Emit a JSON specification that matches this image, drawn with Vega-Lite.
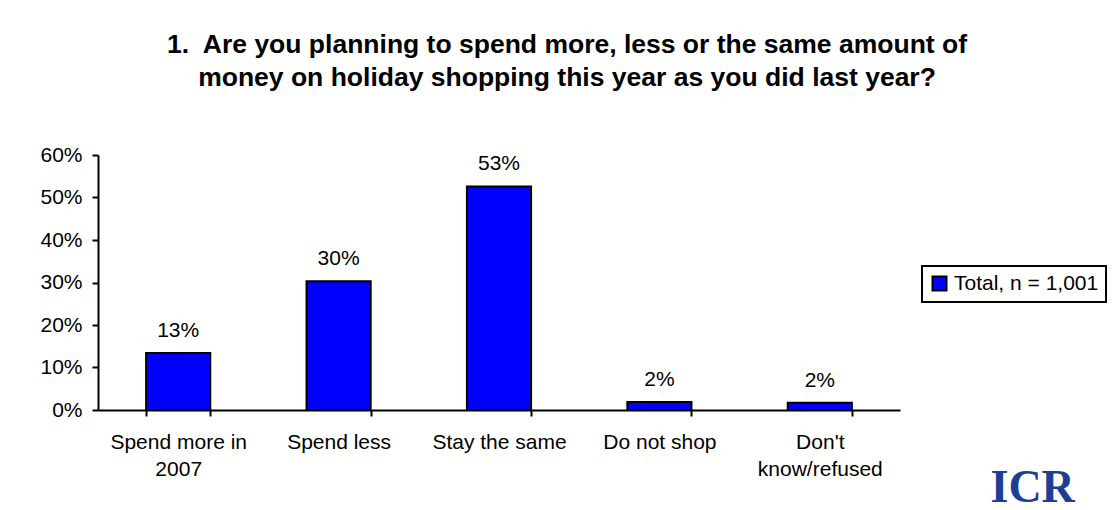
{
  "$schema": "https://vega.github.io/schema/vega-lite/v6.json",
  "autosize": {"type": "none"},
  "padding": {"left": 98, "top": 155, "right": 214, "bottom": 100},
  "width": 802,
  "height": 255,
  "background": "white",
  "title": {
    "text": ["1.\u00a0 Are you planning to spend more, less or the same amount of", "money on holiday shopping this year as you did last year?"],
    "font": "Liberation Sans",
    "fontSize": 26.5,
    "fontWeight": "bold",
    "color": "black",
    "anchor": "middle",
    "frame": "group",
    "dx": 68,
    "lineHeight": 33,
    "offset": 53
  },
  "data": {
    "values": [
      {"answer": "Spend more in 2007", "share": 0.134, "series": "Total, n = 1,001"},
      {"answer": "Spend less", "share": 0.303, "series": "Total, n = 1,001"},
      {"answer": "Stay the same", "share": 0.526, "series": "Total, n = 1,001"},
      {"answer": "Do not shop", "share": 0.019, "series": "Total, n = 1,001"},
      {"answer": "Don't know/refused", "share": 0.017, "series": "Total, n = 1,001"}
    ]
  },
  "encoding": {
    "x": {
      "field": "answer",
      "type": "nominal",
      "sort": null,
      "scale": {"paddingInner": 0.6, "paddingOuter": 0.3},
      "axis": {
        "title": "ICR",
        "titleFont": "Liberation Serif",
        "titleFontSize": 46,
        "titleFontWeight": "bold",
        "titleColor": "#1c3f94",
        "titleX": 892,
        "titleY": 91,
        "titleAlign": "left",
        "titleBaseline": "alphabetic",
        "labelAngle": 0,
        "labelFont": "Liberation Sans",
        "labelFontSize": 21,
        "labelColor": "black",
        "labelLineHeight": 27,
        "labelPadding": 15,
        "labelExpr": "datum.value == 'Spend more in 2007' ? ['Spend more in', '2007'] : datum.value == \"Don't know/refused\" ? [\"Don't\", 'know/refused'] : datum.value",
        "tickBand": "extent",
        "tickSize": 6,
        "tickWidth": 2,
        "tickColor": "black",
        "domainColor": "black",
        "domainWidth": 2
      }
    },
    "y": {
      "field": "share",
      "type": "quantitative",
      "scale": {"domain": [0, 0.6], "nice": false},
      "axis": {
        "title": null,
        "values": [0, 0.1, 0.2, 0.3, 0.4, 0.5, 0.6],
        "format": ".0%",
        "grid": false,
        "labelFont": "Liberation Sans",
        "labelFontSize": 21,
        "labelColor": "black",
        "labelPadding": 10,
        "tickSize": 6,
        "tickWidth": 2,
        "tickColor": "black",
        "domainColor": "black",
        "domainWidth": 2
      }
    }
  },
  "layer": [
    {
      "mark": {"type": "bar", "stroke": "black", "strokeWidth": 2},
      "encoding": {
        "color": {
          "field": "series",
          "type": "nominal",
          "scale": {"range": ["#0000ff"]},
          "legend": {
            "title": null,
            "orient": "none",
            "legendX": 824,
            "legendY": 111,
            "strokeColor": "black",
            "padding": 7,
            "symbolType": "square",
            "symbolSize": 196,
            "symbolStrokeColor": "black",
            "symbolStrokeWidth": 2,
            "symbolOpacity": 1,
            "labelFont": "Liberation Sans",
            "labelFontSize": 21,
            "labelColor": "black",
            "labelOffset": 4,
            "fillColor": "white"
          }
        }
      }
    },
    {
      "mark": {"type": "text", "dy": -16, "baseline": "alphabetic", "font": "Liberation Sans", "fontSize": 21, "color": "black"},
      "encoding": {
        "text": {"field": "share", "type": "quantitative", "format": ".0%"}
      }
    }
  ],
  "config": {
    "view": {"stroke": null},
    "legend": {"strokeWidth": 2}
  }
}
